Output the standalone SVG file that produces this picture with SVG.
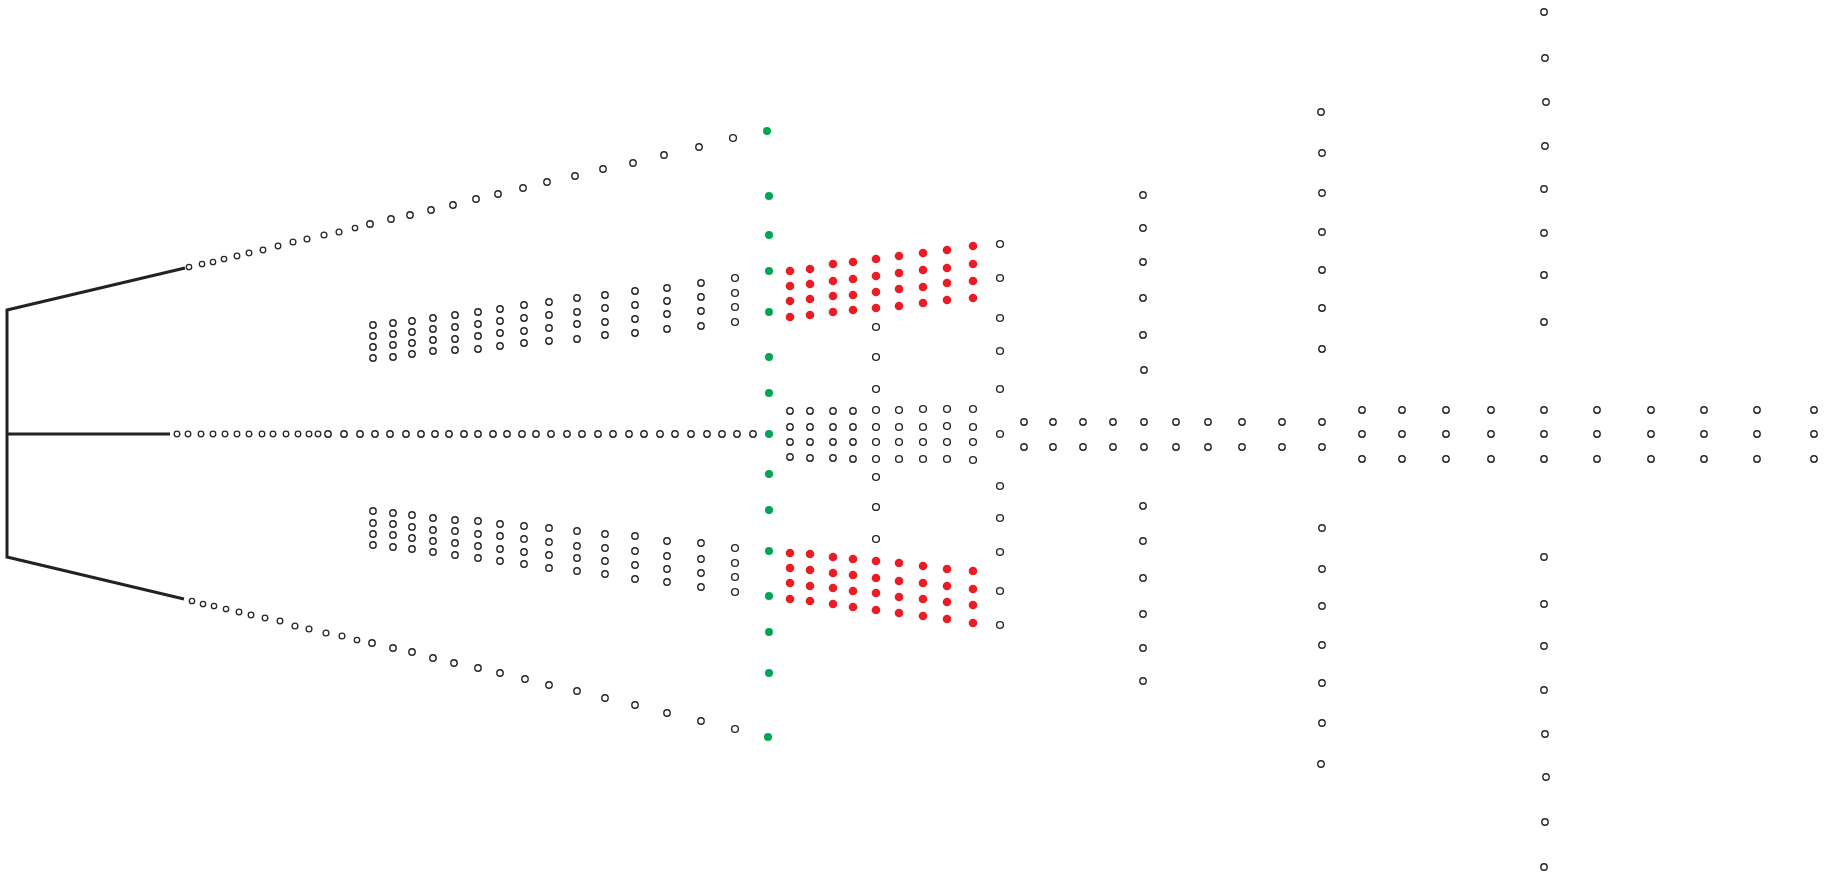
<svg xmlns="http://www.w3.org/2000/svg" width="1827" height="877" viewBox="0 0 1827 877">
<style>
.o{fill:#fff;stroke:#262626;stroke-width:1.4}
.s{fill:#fff;stroke:#262626;stroke-width:1.3}
.g{fill:#00a651}
.r{fill:#ec1c24}
.ln{fill:none;stroke:#222;stroke-width:3;stroke-linejoin:miter}
</style>
<rect width="1827" height="877" fill="#fff"/>
<g id="connectors">
<polyline class="ln" points="185,268 7,310 7,557 184,599"/>
<line class="ln" x1="7" y1="434" x2="170" y2="434"/>
</g>
<g id="top-diagonal">
<circle class="s" cx="189" cy="267" r="2.7"/><circle class="s" cx="202" cy="264" r="2.7"/><circle class="s" cx="213" cy="262" r="2.7"/><circle class="s" cx="224" cy="259" r="2.7"/><circle class="s" cx="237" cy="256" r="2.8"/><circle class="s" cx="249" cy="253" r="2.8"/><circle class="s" cx="263" cy="250" r="2.8"/><circle class="s" cx="278" cy="246" r="2.8"/><circle class="s" cx="293" cy="242" r="2.9"/><circle class="s" cx="307" cy="239" r="2.9"/><circle class="s" cx="324" cy="235" r="2.9"/><circle class="s" cx="339" cy="232" r="2.9"/><circle class="s" cx="355" cy="228" r="2.7"/><circle class="o" cx="370" cy="224" r="3.2"/><circle class="o" cx="391" cy="219" r="3.2"/><circle class="o" cx="410" cy="215" r="3.2"/><circle class="o" cx="431" cy="210" r="3.2"/><circle class="o" cx="453" cy="205" r="3.2"/><circle class="o" cx="476" cy="199" r="3.2"/><circle class="o" cx="498" cy="194" r="3.2"/><circle class="o" cx="523" cy="188" r="3.2"/><circle class="o" cx="547" cy="182" r="3.2"/><circle class="o" cx="575" cy="176" r="3.2"/><circle class="o" cx="603" cy="169" r="3.2"/><circle class="o" cx="633" cy="163" r="3.2"/><circle class="o" cx="664" cy="155" r="3.2"/><circle class="o" cx="699" cy="147" r="3.2"/><circle class="o" cx="733" cy="138" r="3.4"/>
</g>
<g id="bottom-diagonal">
<circle class="s" cx="192" cy="601" r="2.7"/><circle class="s" cx="203" cy="604" r="2.7"/><circle class="s" cx="214" cy="606" r="2.7"/><circle class="s" cx="226" cy="609" r="2.7"/><circle class="s" cx="239" cy="612" r="2.8"/><circle class="s" cx="251" cy="615" r="2.8"/><circle class="s" cx="265" cy="618" r="2.8"/><circle class="s" cx="280" cy="621" r="2.8"/><circle class="s" cx="295" cy="626" r="2.9"/><circle class="s" cx="309" cy="629" r="2.9"/><circle class="s" cx="326" cy="633" r="2.9"/><circle class="s" cx="342" cy="636" r="2.9"/><circle class="s" cx="357" cy="640" r="2.7"/><circle class="o" cx="372" cy="643" r="3.2"/><circle class="o" cx="393" cy="648" r="3.2"/><circle class="o" cx="412" cy="652" r="3.2"/><circle class="o" cx="433" cy="658" r="3.2"/><circle class="o" cx="454" cy="663" r="3.2"/><circle class="o" cx="478" cy="668" r="3.2"/><circle class="o" cx="500" cy="673" r="3.2"/><circle class="o" cx="525" cy="679" r="3.2"/><circle class="o" cx="549" cy="685" r="3.2"/><circle class="o" cx="577" cy="691" r="3.2"/><circle class="o" cx="605" cy="698" r="3.2"/><circle class="o" cx="635" cy="705" r="3.2"/><circle class="o" cx="667" cy="713" r="3.2"/><circle class="o" cx="701" cy="721" r="3.2"/><circle class="o" cx="735" cy="729" r="3.4"/>
</g>
<g id="middle-row">
<circle class="s" cx="177" cy="434" r="2.8"/><circle class="s" cx="188" cy="434" r="2.8"/><circle class="s" cx="201" cy="434" r="2.8"/><circle class="s" cx="213" cy="434" r="2.8"/><circle class="s" cx="225" cy="434" r="2.8"/><circle class="s" cx="237" cy="434" r="2.8"/><circle class="s" cx="249" cy="434" r="2.8"/><circle class="s" cx="262" cy="434" r="2.8"/><circle class="s" cx="273" cy="434" r="2.8"/><circle class="s" cx="286" cy="434" r="2.8"/><circle class="s" cx="298" cy="434" r="2.8"/><circle class="s" cx="309" cy="434" r="2.8"/><circle class="s" cx="318" cy="434" r="2.8"/><circle class="o" cx="328" cy="434" r="3.2"/><circle class="o" cx="344" cy="434" r="3.2"/><circle class="o" cx="360" cy="434" r="3.2"/><circle class="o" cx="375" cy="434" r="3.2"/><circle class="o" cx="390" cy="434" r="3.2"/><circle class="o" cx="406" cy="434" r="3.2"/><circle class="o" cx="421" cy="434" r="3.2"/><circle class="o" cx="435" cy="434" r="3.2"/><circle class="o" cx="449" cy="434" r="3.2"/><circle class="o" cx="464" cy="434" r="3.2"/><circle class="o" cx="478" cy="434" r="3.2"/><circle class="o" cx="493" cy="434" r="3.2"/><circle class="o" cx="507" cy="434" r="3.2"/><circle class="o" cx="522" cy="434" r="3.2"/><circle class="o" cx="536" cy="434" r="3.2"/><circle class="o" cx="551" cy="434" r="3.2"/><circle class="o" cx="567" cy="434" r="3.2"/><circle class="o" cx="582" cy="434" r="3.2"/><circle class="o" cx="598" cy="434" r="3.2"/><circle class="o" cx="613" cy="434" r="3.2"/><circle class="o" cx="629" cy="434" r="3.2"/><circle class="o" cx="644" cy="434" r="3.2"/><circle class="o" cx="660" cy="434" r="3.2"/><circle class="o" cx="675" cy="434" r="3.2"/><circle class="o" cx="691" cy="434" r="3.2"/><circle class="o" cx="707" cy="434" r="3.2"/><circle class="o" cx="722" cy="434" r="3.2"/><circle class="o" cx="737" cy="434" r="3.2"/><circle class="o" cx="753" cy="434" r="3.2"/>
</g>
<g id="upper-fan">
<circle class="o" cx="373" cy="325" r="3.2"/><circle class="o" cx="373" cy="336" r="3.2"/><circle class="o" cx="373" cy="347" r="3.2"/><circle class="o" cx="373" cy="358" r="3.2"/>
<circle class="o" cx="393" cy="323" r="3.2"/><circle class="o" cx="393" cy="334" r="3.2"/><circle class="o" cx="393" cy="345" r="3.2"/><circle class="o" cx="393" cy="357" r="3.2"/>
<circle class="o" cx="412" cy="321" r="3.2"/><circle class="o" cx="412" cy="332" r="3.2"/><circle class="o" cx="412" cy="343" r="3.2"/><circle class="o" cx="412" cy="354" r="3.2"/>
<circle class="o" cx="433" cy="318" r="3.2"/><circle class="o" cx="433" cy="329" r="3.2"/><circle class="o" cx="433" cy="340" r="3.2"/><circle class="o" cx="433" cy="351" r="3.2"/>
<circle class="o" cx="455" cy="315" r="3.2"/><circle class="o" cx="455" cy="327" r="3.2"/><circle class="o" cx="455" cy="339" r="3.2"/><circle class="o" cx="455" cy="350" r="3.2"/>
<circle class="o" cx="478" cy="312" r="3.2"/><circle class="o" cx="478" cy="324" r="3.2"/><circle class="o" cx="478" cy="336" r="3.2"/><circle class="o" cx="478" cy="349" r="3.2"/>
<circle class="o" cx="500" cy="309" r="3.2"/><circle class="o" cx="500" cy="321" r="3.2"/><circle class="o" cx="500" cy="333" r="3.2"/><circle class="o" cx="500" cy="346" r="3.2"/>
<circle class="o" cx="524" cy="305" r="3.2"/><circle class="o" cx="524" cy="318" r="3.2"/><circle class="o" cx="524" cy="331" r="3.2"/><circle class="o" cx="524" cy="343" r="3.2"/>
<circle class="o" cx="549" cy="302" r="3.2"/><circle class="o" cx="549" cy="315" r="3.2"/><circle class="o" cx="549" cy="328" r="3.2"/><circle class="o" cx="549" cy="341" r="3.2"/>
<circle class="o" cx="577" cy="298" r="3.2"/><circle class="o" cx="577" cy="312" r="3.2"/><circle class="o" cx="577" cy="324" r="3.2"/><circle class="o" cx="577" cy="339" r="3.2"/>
<circle class="o" cx="605" cy="295" r="3.2"/><circle class="o" cx="605" cy="308" r="3.2"/><circle class="o" cx="605" cy="322" r="3.2"/><circle class="o" cx="605" cy="335" r="3.2"/>
<circle class="o" cx="635" cy="291" r="3.2"/><circle class="o" cx="635" cy="305" r="3.2"/><circle class="o" cx="635" cy="319" r="3.2"/><circle class="o" cx="635" cy="333" r="3.2"/>
<circle class="o" cx="667" cy="288" r="3.2"/><circle class="o" cx="667" cy="301" r="3.2"/><circle class="o" cx="667" cy="314" r="3.2"/><circle class="o" cx="667" cy="329" r="3.2"/>
<circle class="o" cx="701" cy="283" r="3.2"/><circle class="o" cx="701" cy="297" r="3.2"/><circle class="o" cx="701" cy="311" r="3.2"/><circle class="o" cx="701" cy="326" r="3.2"/>
<circle class="o" cx="735" cy="278" r="3.4"/><circle class="o" cx="735" cy="293" r="3.4"/><circle class="o" cx="735" cy="307" r="3.4"/><circle class="o" cx="735" cy="322" r="3.4"/>
</g>
<g id="lower-fan">
<circle class="o" cx="373" cy="511" r="3.2"/><circle class="o" cx="373" cy="523" r="3.2"/><circle class="o" cx="373" cy="534" r="3.2"/><circle class="o" cx="373" cy="545" r="3.2"/>
<circle class="o" cx="393" cy="513" r="3.2"/><circle class="o" cx="393" cy="524" r="3.2"/><circle class="o" cx="393" cy="535" r="3.2"/><circle class="o" cx="393" cy="547" r="3.2"/>
<circle class="o" cx="412" cy="515" r="3.2"/><circle class="o" cx="412" cy="527" r="3.2"/><circle class="o" cx="412" cy="538" r="3.2"/><circle class="o" cx="412" cy="549" r="3.2"/>
<circle class="o" cx="433" cy="518" r="3.2"/><circle class="o" cx="433" cy="530" r="3.2"/><circle class="o" cx="433" cy="541" r="3.2"/><circle class="o" cx="433" cy="552" r="3.2"/>
<circle class="o" cx="455" cy="520" r="3.2"/><circle class="o" cx="455" cy="531" r="3.2"/><circle class="o" cx="455" cy="543" r="3.2"/><circle class="o" cx="455" cy="555" r="3.2"/>
<circle class="o" cx="478" cy="521" r="3.2"/><circle class="o" cx="478" cy="534" r="3.2"/><circle class="o" cx="478" cy="546" r="3.2"/><circle class="o" cx="478" cy="558" r="3.2"/>
<circle class="o" cx="500" cy="524" r="3.2"/><circle class="o" cx="500" cy="536" r="3.2"/><circle class="o" cx="500" cy="549" r="3.2"/><circle class="o" cx="500" cy="561" r="3.2"/>
<circle class="o" cx="524" cy="526" r="3.2"/><circle class="o" cx="524" cy="539" r="3.2"/><circle class="o" cx="524" cy="552" r="3.2"/><circle class="o" cx="524" cy="564" r="3.2"/>
<circle class="o" cx="549" cy="528" r="3.2"/><circle class="o" cx="549" cy="542" r="3.2"/><circle class="o" cx="549" cy="555" r="3.2"/><circle class="o" cx="549" cy="568" r="3.2"/>
<circle class="o" cx="577" cy="531" r="3.2"/><circle class="o" cx="577" cy="546" r="3.2"/><circle class="o" cx="577" cy="558" r="3.2"/><circle class="o" cx="577" cy="571" r="3.2"/>
<circle class="o" cx="605" cy="534" r="3.2"/><circle class="o" cx="605" cy="548" r="3.2"/><circle class="o" cx="605" cy="561" r="3.2"/><circle class="o" cx="605" cy="574" r="3.2"/>
<circle class="o" cx="635" cy="536" r="3.2"/><circle class="o" cx="635" cy="551" r="3.2"/><circle class="o" cx="635" cy="565" r="3.2"/><circle class="o" cx="635" cy="579" r="3.2"/>
<circle class="o" cx="667" cy="541" r="3.2"/><circle class="o" cx="667" cy="556" r="3.2"/><circle class="o" cx="667" cy="569" r="3.2"/><circle class="o" cx="667" cy="582" r="3.2"/>
<circle class="o" cx="701" cy="543" r="3.2"/><circle class="o" cx="701" cy="559" r="3.2"/><circle class="o" cx="701" cy="573" r="3.2"/><circle class="o" cx="701" cy="587" r="3.2"/>
<circle class="o" cx="735" cy="548" r="3.4"/><circle class="o" cx="735" cy="563" r="3.4"/><circle class="o" cx="735" cy="577" r="3.4"/><circle class="o" cx="735" cy="592" r="3.4"/>
</g>
<g id="green-column">
<circle class="g" cx="767" cy="131" r="4"/><circle class="g" cx="769" cy="196" r="4"/><circle class="g" cx="769" cy="235" r="4"/><circle class="g" cx="769" cy="271" r="4"/><circle class="g" cx="769" cy="312" r="4"/><circle class="g" cx="769" cy="357" r="4"/><circle class="g" cx="769" cy="393" r="4"/><circle class="g" cx="769" cy="434" r="4"/><circle class="g" cx="769" cy="474" r="4"/><circle class="g" cx="769" cy="510" r="4"/><circle class="g" cx="769" cy="551" r="4"/><circle class="g" cx="769" cy="596" r="4"/><circle class="g" cx="769" cy="632" r="4"/><circle class="g" cx="769" cy="673" r="4"/><circle class="g" cx="768" cy="737" r="4"/>
</g>
<g id="upper-red">
<circle class="r" cx="790" cy="271" r="4.3"/><circle class="r" cx="790" cy="286" r="4.3"/><circle class="r" cx="790" cy="301" r="4.3"/><circle class="r" cx="790" cy="317" r="4.3"/>
<circle class="r" cx="810" cy="269" r="4.3"/><circle class="r" cx="810" cy="284" r="4.3"/><circle class="r" cx="810" cy="299" r="4.3"/><circle class="r" cx="810" cy="315" r="4.3"/>
<circle class="r" cx="833" cy="264" r="4.3"/><circle class="r" cx="833" cy="281" r="4.3"/><circle class="r" cx="833" cy="296" r="4.3"/><circle class="r" cx="833" cy="312" r="4.3"/>
<circle class="r" cx="853" cy="262" r="4.3"/><circle class="r" cx="853" cy="279" r="4.3"/><circle class="r" cx="853" cy="295" r="4.3"/><circle class="r" cx="853" cy="310" r="4.3"/>
<circle class="r" cx="876" cy="259" r="4.3"/><circle class="r" cx="876" cy="276" r="4.3"/><circle class="r" cx="876" cy="292" r="4.3"/><circle class="r" cx="876" cy="308" r="4.3"/>
<circle class="r" cx="899" cy="256" r="4.3"/><circle class="r" cx="899" cy="273" r="4.3"/><circle class="r" cx="899" cy="289" r="4.3"/><circle class="r" cx="899" cy="306" r="4.3"/>
<circle class="r" cx="923" cy="253" r="4.3"/><circle class="r" cx="923" cy="270" r="4.3"/><circle class="r" cx="923" cy="287" r="4.3"/><circle class="r" cx="923" cy="303" r="4.3"/>
<circle class="r" cx="947" cy="250" r="4.3"/><circle class="r" cx="947" cy="268" r="4.3"/><circle class="r" cx="947" cy="283" r="4.3"/><circle class="r" cx="947" cy="300" r="4.3"/>
<circle class="r" cx="973" cy="246" r="4.3"/><circle class="r" cx="973" cy="264" r="4.3"/><circle class="r" cx="973" cy="281" r="4.3"/><circle class="r" cx="973" cy="298" r="4.3"/>
</g>
<g id="lower-red">
<circle class="r" cx="790" cy="553" r="4.3"/><circle class="r" cx="790" cy="568" r="4.3"/><circle class="r" cx="790" cy="583" r="4.3"/><circle class="r" cx="790" cy="599" r="4.3"/>
<circle class="r" cx="810" cy="554" r="4.3"/><circle class="r" cx="810" cy="570" r="4.3"/><circle class="r" cx="810" cy="586" r="4.3"/><circle class="r" cx="810" cy="601" r="4.3"/>
<circle class="r" cx="833" cy="557" r="4.3"/><circle class="r" cx="833" cy="573" r="4.3"/><circle class="r" cx="833" cy="588" r="4.3"/><circle class="r" cx="833" cy="604" r="4.3"/>
<circle class="r" cx="853" cy="559" r="4.3"/><circle class="r" cx="853" cy="575" r="4.3"/><circle class="r" cx="853" cy="591" r="4.3"/><circle class="r" cx="853" cy="607" r="4.3"/>
<circle class="r" cx="876" cy="561" r="4.3"/><circle class="r" cx="876" cy="578" r="4.3"/><circle class="r" cx="876" cy="593" r="4.3"/><circle class="r" cx="876" cy="610" r="4.3"/>
<circle class="r" cx="899" cy="563" r="4.3"/><circle class="r" cx="899" cy="581" r="4.3"/><circle class="r" cx="899" cy="597" r="4.3"/><circle class="r" cx="899" cy="613" r="4.3"/>
<circle class="r" cx="923" cy="566" r="4.3"/><circle class="r" cx="923" cy="583" r="4.3"/><circle class="r" cx="923" cy="599" r="4.3"/><circle class="r" cx="923" cy="616" r="4.3"/>
<circle class="r" cx="947" cy="569" r="4.3"/><circle class="r" cx="947" cy="586" r="4.3"/><circle class="r" cx="947" cy="602" r="4.3"/><circle class="r" cx="947" cy="619" r="4.3"/>
<circle class="r" cx="973" cy="571" r="4.3"/><circle class="r" cx="973" cy="589" r="4.3"/><circle class="r" cx="973" cy="605" r="4.3"/><circle class="r" cx="973" cy="623" r="4.3"/>
</g>
<g id="middle-block">
<circle class="o" cx="790" cy="411" r="3.2"/><circle class="o" cx="790" cy="427" r="3.2"/><circle class="o" cx="790" cy="442" r="3.2"/><circle class="o" cx="790" cy="457" r="3.2"/>
<circle class="o" cx="810" cy="411" r="3.2"/><circle class="o" cx="810" cy="427" r="3.2"/><circle class="o" cx="810" cy="442" r="3.2"/><circle class="o" cx="810" cy="458" r="3.2"/>
<circle class="o" cx="833" cy="411" r="3.2"/><circle class="o" cx="833" cy="427" r="3.2"/><circle class="o" cx="833" cy="442" r="3.2"/><circle class="o" cx="833" cy="458" r="3.2"/>
<circle class="o" cx="853" cy="411" r="3.2"/><circle class="o" cx="853" cy="427" r="3.2"/><circle class="o" cx="853" cy="442" r="3.2"/><circle class="o" cx="853" cy="459" r="3.2"/>
<circle class="o" cx="876" cy="410" r="3.4"/><circle class="o" cx="876" cy="427" r="3.4"/><circle class="o" cx="876" cy="442" r="3.4"/><circle class="o" cx="876" cy="459" r="3.4"/>
<circle class="o" cx="899" cy="410" r="3.4"/><circle class="o" cx="899" cy="427" r="3.4"/><circle class="o" cx="899" cy="442" r="3.4"/><circle class="o" cx="899" cy="459" r="3.4"/>
<circle class="o" cx="923" cy="409" r="3.4"/><circle class="o" cx="923" cy="427" r="3.4"/><circle class="o" cx="923" cy="442" r="3.4"/><circle class="o" cx="923" cy="459" r="3.4"/>
<circle class="o" cx="947" cy="409" r="3.4"/><circle class="o" cx="947" cy="426" r="3.4"/><circle class="o" cx="947" cy="442" r="3.4"/><circle class="o" cx="947" cy="459" r="3.4"/>
<circle class="o" cx="973" cy="409" r="3.4"/><circle class="o" cx="973" cy="427" r="3.4"/><circle class="o" cx="973" cy="442" r="3.4"/><circle class="o" cx="973" cy="460" r="3.4"/>
</g>
<g id="column-876">
<circle class="o" cx="876" cy="327" r="3.4"/><circle class="o" cx="876" cy="357" r="3.4"/><circle class="o" cx="876" cy="389" r="3.4"/><circle class="o" cx="876" cy="477" r="3.4"/><circle class="o" cx="876" cy="507" r="3.4"/><circle class="o" cx="876" cy="539" r="3.4"/>
</g>
<g id="column-1000">
<circle class="o" cx="1000" cy="244" r="3.4"/><circle class="o" cx="1000" cy="278" r="3.4"/><circle class="o" cx="1000" cy="318" r="3.4"/><circle class="o" cx="1000" cy="351" r="3.4"/><circle class="o" cx="1000" cy="389" r="3.4"/><circle class="o" cx="1000" cy="434" r="3.4"/><circle class="o" cx="1000" cy="486" r="3.4"/><circle class="o" cx="1000" cy="518" r="3.4"/><circle class="o" cx="1000" cy="552" r="3.4"/><circle class="o" cx="1000" cy="591" r="3.4"/><circle class="o" cx="1000" cy="625" r="3.4"/>
</g>
<g id="two-row-band">
<circle class="o" cx="1024" cy="422" r="3.2"/><circle class="o" cx="1053" cy="422" r="3.2"/><circle class="o" cx="1083" cy="422" r="3.2"/><circle class="o" cx="1113" cy="422" r="3.2"/><circle class="o" cx="1144" cy="422" r="3.2"/><circle class="o" cx="1176" cy="422" r="3.2"/><circle class="o" cx="1208" cy="422" r="3.2"/><circle class="o" cx="1242" cy="422" r="3.2"/><circle class="o" cx="1282" cy="422" r="3.2"/><circle class="o" cx="1322" cy="422" r="3.2"/>
<circle class="o" cx="1024" cy="447" r="3.2"/><circle class="o" cx="1053" cy="447" r="3.2"/><circle class="o" cx="1083" cy="447" r="3.2"/><circle class="o" cx="1113" cy="447" r="3.2"/><circle class="o" cx="1144" cy="447" r="3.2"/><circle class="o" cx="1176" cy="447" r="3.2"/><circle class="o" cx="1208" cy="447" r="3.2"/><circle class="o" cx="1242" cy="447" r="3.2"/><circle class="o" cx="1282" cy="447" r="3.2"/><circle class="o" cx="1322" cy="447" r="3.2"/>
</g>
<g id="three-row-band">
<circle class="o" cx="1362" cy="410" r="3.2"/><circle class="o" cx="1402" cy="410" r="3.2"/><circle class="o" cx="1446" cy="410" r="3.2"/><circle class="o" cx="1491" cy="410" r="3.2"/><circle class="o" cx="1544" cy="410" r="3.2"/><circle class="o" cx="1597" cy="410" r="3.2"/><circle class="o" cx="1651" cy="410" r="3.2"/><circle class="o" cx="1704" cy="410" r="3.2"/><circle class="o" cx="1757" cy="410" r="3.2"/><circle class="o" cx="1814" cy="410" r="3.2"/>
<circle class="o" cx="1362" cy="434" r="3.2"/><circle class="o" cx="1402" cy="434" r="3.2"/><circle class="o" cx="1446" cy="434" r="3.2"/><circle class="o" cx="1491" cy="434" r="3.2"/><circle class="o" cx="1544" cy="434" r="3.2"/><circle class="o" cx="1597" cy="434" r="3.2"/><circle class="o" cx="1651" cy="434" r="3.2"/><circle class="o" cx="1704" cy="434" r="3.2"/><circle class="o" cx="1757" cy="434" r="3.2"/><circle class="o" cx="1814" cy="434" r="3.2"/>
<circle class="o" cx="1362" cy="459" r="3.2"/><circle class="o" cx="1402" cy="459" r="3.2"/><circle class="o" cx="1446" cy="459" r="3.2"/><circle class="o" cx="1491" cy="459" r="3.2"/><circle class="o" cx="1544" cy="459" r="3.2"/><circle class="o" cx="1597" cy="459" r="3.2"/><circle class="o" cx="1651" cy="459" r="3.2"/><circle class="o" cx="1704" cy="459" r="3.2"/><circle class="o" cx="1757" cy="459" r="3.2"/><circle class="o" cx="1814" cy="459" r="3.2"/>
</g>
<g id="column-1144">
<circle class="o" cx="1143" cy="195" r="3.2"/><circle class="o" cx="1143" cy="228" r="3.2"/><circle class="o" cx="1143" cy="262" r="3.2"/><circle class="o" cx="1143" cy="298" r="3.2"/><circle class="o" cx="1143" cy="335" r="3.2"/><circle class="o" cx="1144" cy="370" r="3.2"/>
<circle class="o" cx="1143" cy="506" r="3.2"/><circle class="o" cx="1143" cy="541" r="3.2"/><circle class="o" cx="1143" cy="578" r="3.2"/><circle class="o" cx="1143" cy="614" r="3.2"/><circle class="o" cx="1143" cy="648" r="3.2"/><circle class="o" cx="1143" cy="681" r="3.2"/>
</g>
<g id="column-1321">
<circle class="o" cx="1321" cy="112" r="3.2"/><circle class="o" cx="1322" cy="153" r="3.2"/><circle class="o" cx="1322" cy="193" r="3.2"/><circle class="o" cx="1322" cy="232" r="3.2"/><circle class="o" cx="1322" cy="270" r="3.2"/><circle class="o" cx="1322" cy="308" r="3.2"/><circle class="o" cx="1322" cy="349" r="3.2"/>
<circle class="o" cx="1322" cy="528" r="3.2"/><circle class="o" cx="1322" cy="569" r="3.2"/><circle class="o" cx="1322" cy="606" r="3.2"/><circle class="o" cx="1322" cy="645" r="3.2"/><circle class="o" cx="1322" cy="683" r="3.2"/><circle class="o" cx="1322" cy="723" r="3.2"/><circle class="o" cx="1321" cy="764" r="3.2"/>
</g>
<g id="column-1544">
<circle class="o" cx="1544" cy="12" r="3.2"/><circle class="o" cx="1545" cy="58" r="3.2"/><circle class="o" cx="1546" cy="102" r="3.2"/><circle class="o" cx="1545" cy="146" r="3.2"/><circle class="o" cx="1544" cy="189" r="3.2"/><circle class="o" cx="1544" cy="233" r="3.2"/><circle class="o" cx="1544" cy="275" r="3.2"/><circle class="o" cx="1544" cy="322" r="3.2"/>
<circle class="o" cx="1544" cy="557" r="3.2"/><circle class="o" cx="1544" cy="604" r="3.2"/><circle class="o" cx="1544" cy="646" r="3.2"/><circle class="o" cx="1544" cy="690" r="3.2"/><circle class="o" cx="1545" cy="734" r="3.2"/><circle class="o" cx="1546" cy="777" r="3.2"/><circle class="o" cx="1545" cy="822" r="3.2"/><circle class="o" cx="1544" cy="867" r="3.2"/>
</g>
</svg>
